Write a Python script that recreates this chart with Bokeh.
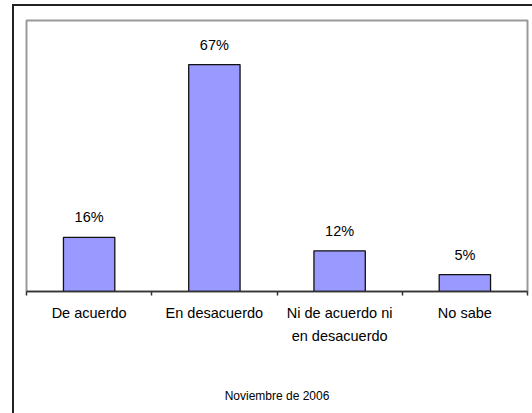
from bokeh.plotting import figure
from bokeh.models import FactorRange, Range1d, LinearAxis, FixedTicker, ColumnDataSource
from bokeh.embed import file_html
from bokeh.resources import INLINE
from bokeh.core.properties import value

# ---- data ----
categories = ["De acuerdo", "En desacuerdo", "Ni de acuerdo ni en desacuerdo", "No sabe"]
tick_labels = ["De acuerdo", "En desacuerdo", "Ni de acuerdo ni\nen desacuerdo", "No sabe"]
values = [16, 67, 12, 5]
value_labels = ["16%", "67%", "12%", "5%"]
footnote = "Noviembre de 2006"

FONT = "Liberation Sans"

src = ColumnDataSource(dict(cat=categories, val=values, lbl=value_labels))

p = figure(
    x_range=FactorRange(factors=categories),
    y_range=Range1d(0, 80),
    width=520, height=409,
    output_backend="svg", toolbar_location=None,
    x_axis_location=None, y_axis_location=None,
    min_border_left=12, min_border_right=7,
    min_border_top=14, min_border_bottom=124,
)
p.xgrid.visible = False
p.ygrid.visible = False
p.outline_line_color = "#999999"
p.outline_line_width = 2
p.background_fill_color = "white"
p.border_fill_color = "white"

p.vbar(x="cat", top="val", width=0.41, source=src,
       fill_color="#9999ff", line_color="#111111", line_width=1.3)

p.text(x="cat", y="val", text="lbl", source=src,
       text_align="center", text_baseline="alphabetic", y_offset=-20,
       text_font=value(FONT), text_font_size="14.5px", text_color="black")

n = len(categories)
ax = LinearAxis(
    ticker=FixedTicker(ticks=[i + 0.5 for i in range(n)],
                       minor_ticks=[float(i) for i in range(n + 1)]),
    major_label_overrides={i + 0.5: lab for i, lab in enumerate(tick_labels)},
    axis_label=footnote,
)
ax.major_tick_out = 0
ax.major_tick_in = 0
ax.minor_tick_out = 4
ax.minor_tick_in = 0
ax.minor_tick_line_color = "#333333"
ax.minor_tick_line_width = 1.5
ax.axis_line_color = "#333333"
ax.axis_line_width = 1.5
ax.major_label_text_font = FONT
ax.major_label_text_font_size = "14.5px"
ax.major_label_text_color = "black"
ax.major_label_standoff = 9
ax.major_label_text_line_height = 1.45
ax.axis_label_text_font = FONT
ax.axis_label_text_font_size = "12px"
ax.axis_label_text_font_style = "normal"
ax.axis_label_text_color = "black"
ax.axis_label_standoff = 42
p.add_layout(ax, "below")

p.styles = {
    "margin-left": "12px",
    "margin-top": "4px",
    "border-left": "2px solid #222222",
    "border-top": "2px solid #222222",
}

open("out.html", "w").write(file_html(p, INLINE))
